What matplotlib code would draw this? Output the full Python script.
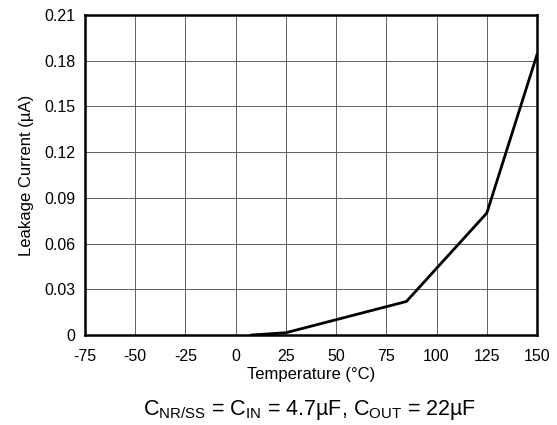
import numpy as np
import matplotlib
matplotlib.use("Agg")
import matplotlib.pyplot as plt

plt.rcParams['font.family'] = ['Liberation Sans', 'DejaVu Sans']
plt.rcParams['axes.unicode_minus'] = False

temp = [8, 25, 85, 125, 150]
leak = [0.0, 0.0015, 0.022, 0.080, 0.184]

xticks = np.arange(-75, 151, 25)
yticks = np.arange(0, 0.211, 0.03)

fig = plt.figure(figsize=(5.57, 4.25), dpi=100)
ax = fig.add_axes([85/557, 1 - 335/425, 452/557, 320/425])

ax.plot(temp, leak, color='black', lw=2)
ax.set_xlim(-75, 150)
ax.set_ylim(0, 0.21)
ax.set_xticks(xticks)
ax.set_yticks(yticks)
ax.set_yticklabels(['0'] + ['%.2f' % v for v in yticks[1:]])
ax.grid(True, color='#606060', lw=0.7)
ax.tick_params(length=0, labelsize=11.5)
ax.tick_params(axis='x', pad=10)
ax.tick_params(axis='y', pad=7)
for s in ax.spines.values():
    s.set_linewidth(1.8)

ax.set_xlabel('Temperature (°C)', fontsize=12, labelpad=2)
ax.set_ylabel('Leakage Current (µA)', fontsize=12, labelpad=7)

fig.text(310/557, 1 - 410/425, r'C$_{\mathregular{NR/SS}}$ = C$_{\mathregular{IN}}$ = 4.7µF, C$_{\mathregular{OUT}}$ = 22µF',
         ha='center', va='center', fontsize=15.5)

fig.savefig('out.png', dpi=100)
